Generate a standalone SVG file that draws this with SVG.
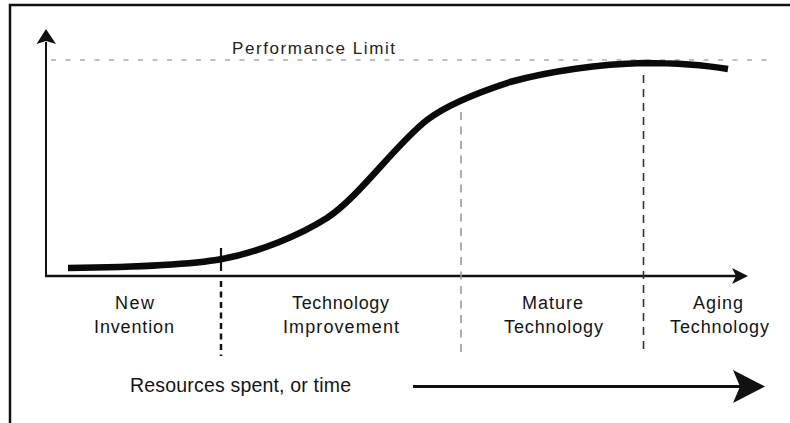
<svg xmlns="http://www.w3.org/2000/svg" width="790" height="423" viewBox="0 0 790 423">
<style>
.lbl{font-family:"Liberation Sans",Arial,Helvetica,sans-serif;font-size:18px;fill:#141414;text-anchor:middle}
.ax{stroke:#111;stroke-width:2.5;fill:none}
.head{fill:#111;stroke:none}
</style>
<rect x="0" y="0" width="790" height="423" fill="#fff"/>
<g id="frame">
<path d="M10,423 V5 H790" fill="none" stroke="#111" stroke-width="2.5"/>
</g>
<g id="connectors">
<line x1="46" y1="276" x2="46" y2="42" stroke="#111" stroke-width="2"/>
<path class="head" d="M46,29 L56,44 L46,41 L36.5,44 Z"/>
<line class="ax" x1="45" y1="276" x2="738" y2="276"/>
<path class="head" d="M748,276 L732,268 L736,276 L732,284 Z"/>
<line x1="51" y1="60" x2="776" y2="60" stroke="#aaa" stroke-width="1.5" stroke-dasharray="5 9.5"/>
<line x1="221" y1="248" x2="221" y2="271" stroke="#111" stroke-width="2.2"/>
<line x1="221" y1="281" x2="221" y2="356" stroke="#111" stroke-width="2.5" stroke-dasharray="6 4.5"/>
<line x1="461" y1="112" x2="461" y2="352" stroke="#999" stroke-width="1.6" stroke-dasharray="8 6.5"/>
<line x1="643.5" y1="75" x2="643.5" y2="350" stroke="#333" stroke-width="1.6" stroke-dasharray="8 6"/>
<line x1="413" y1="386.5" x2="742" y2="386.5" stroke="#111" stroke-width="3"/>
<path class="head" d="M765,386.5 L733,370 L740,386.5 L733,403 Z"/>
</g>
<g id="curve">
<path d="M68,268 C150,267 200,263 222,259 C260,252 300,235 327,218 C360,196 395,145 427,120 C445,106 470,95 510,82 C550,71 600,64 643,63 C680,63 710,66 728,69" fill="none" stroke="#0a0a0a" stroke-width="6.5"/>
</g>
<g id="performance-limit">
<text x="232" y="54" font-family="Liberation Sans, Arial, sans-serif" font-size="17" fill="#222" textLength="163" lengthAdjust="spacing">Performance Limit</text>
</g>
<g id="new-invention">
<text class="lbl" x="134.5" y="309" textLength="39" lengthAdjust="spacing">New</text>
<text class="lbl" x="134" y="333" textLength="80" lengthAdjust="spacing">Invention</text>
</g>
<g id="technology-improvement">
<text class="lbl" x="340.5" y="309" textLength="97" lengthAdjust="spacing">Technology</text>
<text class="lbl" x="341" y="333" textLength="116" lengthAdjust="spacing">Improvement</text>
</g>
<g id="mature-technology">
<text class="lbl" x="552.5" y="309" textLength="61" lengthAdjust="spacing">Mature</text>
<text class="lbl" x="553.5" y="333" textLength="99" lengthAdjust="spacing">Technology</text>
</g>
<g id="aging-technology">
<text class="lbl" x="718" y="309" textLength="50" lengthAdjust="spacing">Aging</text>
<text class="lbl" x="719.5" y="333" textLength="99" lengthAdjust="spacing">Technology</text>
</g>
<g id="resources">
<text x="130" y="392" font-family="Liberation Sans, Arial, sans-serif" font-size="19.5" fill="#141414" textLength="221" lengthAdjust="spacing">Resources spent, or time</text>
</g>
</svg>
